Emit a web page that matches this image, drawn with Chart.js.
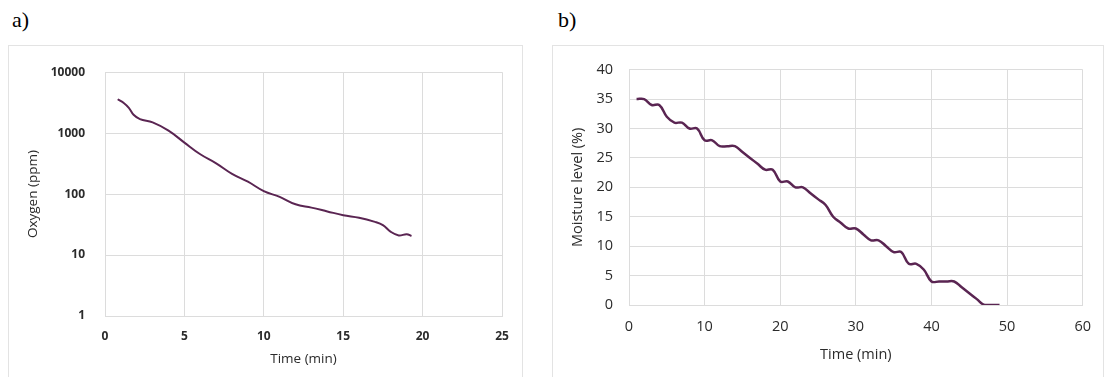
<!DOCTYPE html>
<html>
<head>
<meta charset="utf-8">
<script src="https://cdn.jsdelivr.net/npm/chart.js@4/dist/chart.umd.min.js"></script>
<style>
body{margin:0;background:#fff;width:1104px;height:377px;overflow:hidden;position:relative;}
.lbl{position:absolute;font-family:"Liberation Serif","Times New Roman",serif;font-size:22px;color:#000;}
.box{position:absolute;border:1px solid #e3e3e3;border-bottom:none;box-sizing:border-box;}
canvas{position:absolute;}
</style>
</head>
<body>
<div class="lbl" style="left:12px;top:7px;">a)</div>
<div class="lbl" style="left:558px;top:7px;">b)</div>
<div class="box" style="left:8px;top:45px;width:515px;height:332px;"></div>
<div class="box" style="left:552px;top:45px;width:552px;height:332px;"></div>
<canvas id="chartA" width="513" height="332" style="left:9px;top:45px;"></canvas>
<canvas id="chartB" width="551" height="332" style="left:553px;top:45px;"></canvas>
<script>

// panel a: oxygen (log scale)
const timeA = [0.8,1.2,1.5,1.8,2.2,3,4,5,6,7,8,9,10,11,12,13,14,15,16,17,17.5,18,18.5,19,19.3];
const oxygen = [3600,3100,2600,2000,1700,1500,1100,700,450,320,215,160,112,90,68,60,52,45,41,35,31,24,21,22,20.5];
const oxygenTicks = [1,10,100,1000,10000];

// panel b: moisture
const timeB = [1,2,3,4,5,6,7,8,9,10,11,12,13,14,15,16,17,18,19,20,21,22,23,24,25,26,27,28,29,30,31,32,33,34,35,36,37,38,39,40,41,42,43,44,45,46,47,48,49];
const moisture = [35,35,34,34,32,31,31,30,30,28,28,27,27,27,26,25,24,23,23,21,21,20,20,19,18,17,15,14,13,13,12,11,11,10,9,9,7,7,6,4,4,4,4,3,2,1,0,0,0];

const lineColor = "#5a2552";
const gridColor = "#dcdcdc";
const textColor = "#2b2b2b";
const fontFamily = "'Open Sans', sans-serif";

function toPoints(xs, ys){
return xs.map((x,i)=>({x:x,y:ys[i]}));
}

new Chart(
document.getElementById("chartA"),
{
type:"line",
data:{
datasets:[{
data:toPoints(timeA, oxygen),
borderColor:lineColor,
borderWidth:2,
pointRadius:0,
tension:0.4,
fill:false
}]
},
options:{
responsive:false,
animation:false,
layout:{padding:{top:17,right:20,left:0,bottom:0}},
plugins:{legend:{display:false},tooltip:{enabled:false}},
scales:{
x:{
type:"linear",
min:0,
max:25,
ticks:{stepSize:5,padding:13,color:textColor,font:{family:fontFamily,size:12,weight:"bold"}},
grid:{color:gridColor,drawTicks:false},
border:{color:gridColor},
title:{display:true,text:"Time (min)",color:textColor,font:{family:fontFamily,size:13.5},padding:{top:0,bottom:10}},
afterFit:s=>{s.height=61;}
},
y:{
type:"logarithmic",
min:1,
max:10000,
afterBuildTicks:s=>{s.ticks=oxygenTicks.map(v=>({value:v}));},
ticks:{padding:20,color:textColor,font:{family:fontFamily,size:12,weight:"bold"},callback:v=>String(v)},
grid:{color:gridColor,drawTicks:false},
border:{color:gridColor},
title:{display:true,text:"Oxygen (ppm)",color:textColor,font:{family:fontFamily,size:13.5},padding:{top:16,bottom:0}},
afterFit:s=>{s.width=96;}
}
}
}
}
);

new Chart(
document.getElementById("chartB"),
{
type:"line",
data:{
datasets:[{
data:toPoints(timeB, moisture),
borderColor:lineColor,
borderWidth:2.5,
pointRadius:0,
tension:0.4,
fill:false
}]
},
options:{
responsive:false,
animation:false,
layout:{padding:{top:18,right:16,left:0,bottom:0}},
plugins:{legend:{display:false},tooltip:{enabled:false}},
scales:{
x:{
type:"linear",
min:0,
max:60,
ticks:{stepSize:10,padding:13,color:textColor,font:{family:fontFamily,size:14.5}},
grid:{color:gridColor,drawTicks:false},
border:{color:gridColor},
title:{display:true,text:"Time (min)",color:textColor,font:{family:fontFamily,size:14.5},padding:{top:0,bottom:13}},
afterFit:s=>{s.height=72;}
},
y:{
type:"linear",
min:0,
max:40,
ticks:{stepSize:5,padding:16,color:textColor,font:{family:fontFamily,size:14.5}},
grid:{color:gridColor,drawTicks:false},
border:{color:gridColor},
title:{display:true,text:"Moisture level (%)",color:textColor,font:{family:fontFamily,size:14.5},padding:{top:16,bottom:0}},
afterFit:s=>{s.width=76;}
}
}
}
}
);

</script>
</body>
</html>
